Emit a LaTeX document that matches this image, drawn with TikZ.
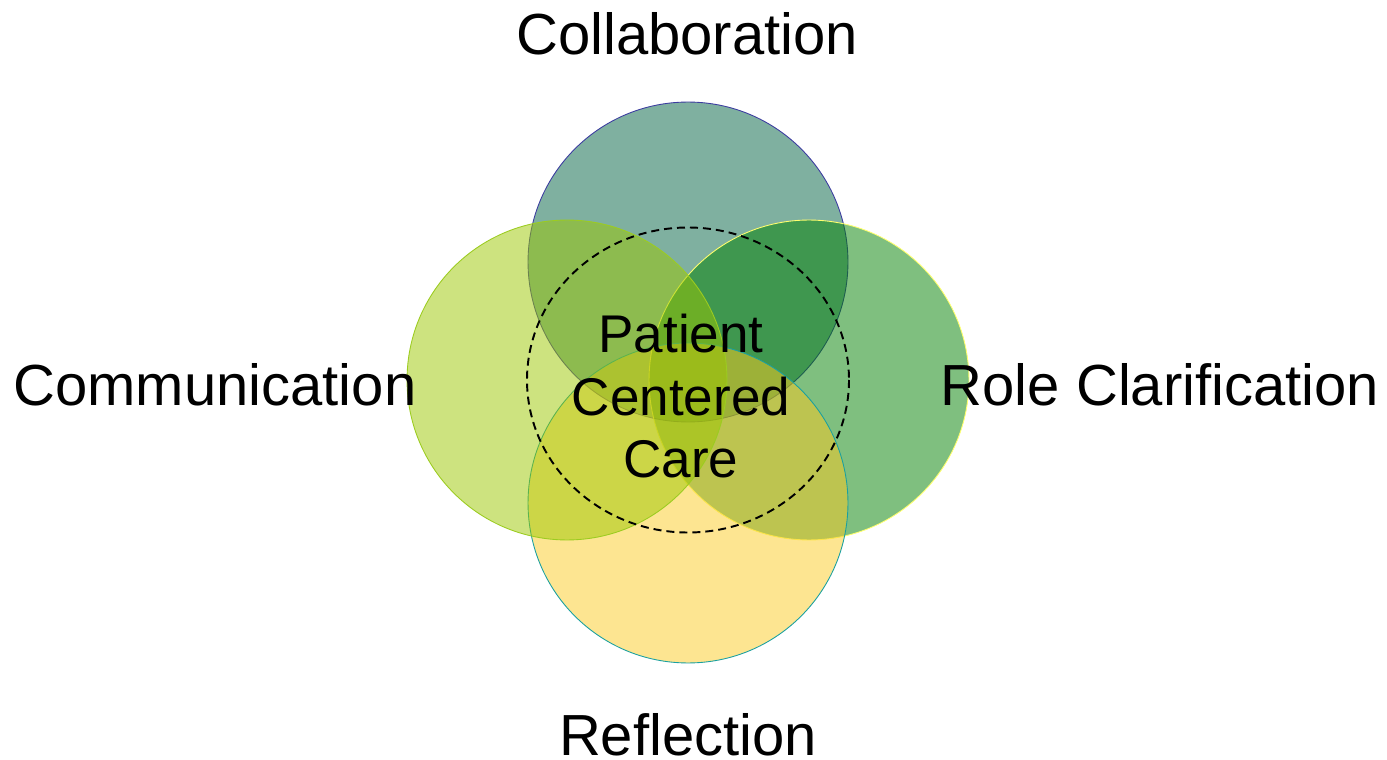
\documentclass[tikz,border=0pt]{standalone}
\usepackage{fontspec}
\setmainfont{Liberation Sans}
\definecolor{collabc}{RGB}{0,97,65}
\definecolor{commc}{RGB}{155,199,0}
\definecolor{rolec}{RGB}{0,127,0}
\definecolor{reflc}{RGB}{251,203,35}
\definecolor{collabe}{RGB}{60,60,160}
\definecolor{comme}{RGB}{156,204,32}
\definecolor{rolee}{RGB}{255,255,110}
\definecolor{refle}{RGB}{26,160,160}
\tikzset{c/.style={circle, minimum size=6.4cm, inner sep=0pt, fill opacity=.5, line width=.5pt}}
\tikzset{l/.style={font=\fontsize{33}{33}\selectfont, anchor=base, inner sep=0pt}}
\tikzset{m/.style={font=\fontsize{30.2}{35.7}\selectfont, align=center, anchor=base, inner sep=0pt}}

\begin{document}
\begin{tikzpicture}[x=0.02cm, y=-0.02cm]
  \useasboundingbox (0,0) rectangle (1387,760);
  % the four circles
  \node[c, fill=collabc, draw=collabe] (collab) at (688,262) {};
  \node[c, fill=rolec, draw=rolee] (role) at (809,380) {};
  \node[c, fill=reflc, draw=refle] (refl) at (688,503) {};
  \node[c, fill=commc, draw=comme] (comm) at (567,380) {};
  % dashed ring round the middle
  \coordinate (mid) at (688,380);
  \draw[line width=1.1pt, dash pattern=on 0.16cm off 0.1cm] (mid) ellipse [x radius=161, y radius=152.5];
  % labels
  \node[l] (tcollab) at (687,55) {Collaboration};
  \node[l] (tcomm) at (215,405) {Communication};
  \node[l] (trole) at (1160,405) {Role Clarification};
  \node[l] (trefl) at (688,755) {Reflection};
  \node[m] (tpcc) at (681,478) {Patient\\Centered\\Care};
\end{tikzpicture}
\end{document}
